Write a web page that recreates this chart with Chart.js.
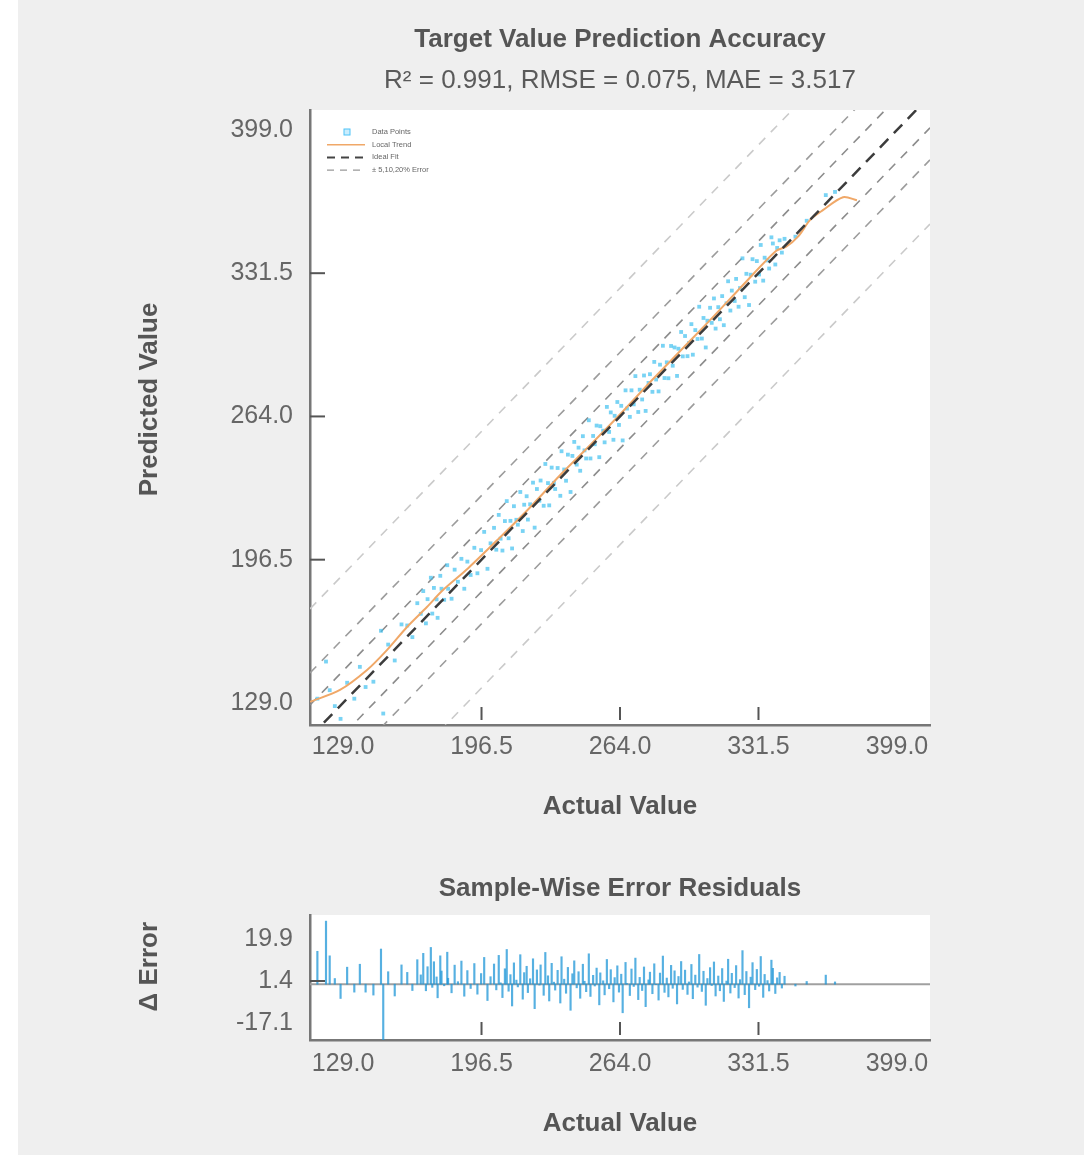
<!DOCTYPE html>
<html>
<head>
<meta charset="utf-8">
<script src="https://cdn.jsdelivr.net/npm/chart.js@4.4.1/dist/chart.umd.min.js"></script>
<style>
  body { margin: 0; background: #fff; }
  #panel { position: absolute; left: 18px; top: 0; width: 1066px; height: 1155px; background: #efefef; }
  canvas { position: absolute; left: 0; }
  #mainChart { top: 0; }
  #residChart { top: 840px; }
</style>
</head>
<body>
<div id="panel"></div>
<canvas id="mainChart" width="1089" height="840"></canvas>
<canvas id="residChart" width="1089" height="318"></canvas>
<script>
// tick labels
var xTicks = [129.0, 196.5, 264.0, 331.5, 399.0];
var yTicks = [129.0, 196.5, 264.0, 331.5, 399.0];
var residTicks = [-17.1, 1.4, 19.9];

// samples: actual vs predicted
var actualValues = [
  116.5, 120.7, 122.5, 125.0, 127.8, 131.0, 134.5, 137.2, 140.0, 143.8,
  147.5, 148.6, 151.0, 154.2, 157.5, 160.3, 162.8,
  165.2, 166.9, 168.1, 169.4, 170.2, 171.8, 172.5, 173.3, 174.6, 175.1,
  176.4, 177.0, 178.3, 179.8, 180.2, 181.9, 183.4, 185.0, 186.7, 188.1,
  189.6, 191.2, 193.0, 194.5, 196.3, 197.8, 199.4, 200.9, 202.6, 203.7,
  204.9, 205.8, 206.7, 207.9, 208.8, 209.7, 210.6, 211.4, 212.3, 213.5,
  214.2, 215.4, 216.6, 217.3, 218.5, 219.1, 220.2, 221.6, 222.4, 223.5,
  224.7, 225.3, 226.8, 227.6, 228.9, 229.5, 230.7, 231.8, 232.4, 233.6,
  234.9, 235.5, 236.8, 237.7, 238.6, 239.9, 240.8, 241.7, 242.9, 243.8,
  244.6, 245.9, 246.7, 247.5, 248.8, 249.6, 250.9, 251.7, 252.6, 253.9,
  254.4, 255.8, 256.5, 257.6, 258.7, 259.5, 260.8, 261.4, 262.7, 263.5,
  264.6, 265.3, 266.7, 267.4, 268.8, 269.6, 270.7, 271.5, 272.9, 273.6,
  274.8, 275.7, 276.5, 277.9, 278.6, 279.8, 280.7, 281.6, 282.8, 283.5,
  284.9, 285.7, 286.8, 287.6, 288.9, 289.7, 290.6, 291.8, 292.5, 293.8,
  294.6, 295.7, 296.9, 297.6, 298.8, 299.5, 300.7, 301.8, 302.6, 303.9,
  304.7, 305.8, 306.6, 307.9, 308.7, 309.8, 310.6, 311.9, 312.7, 313.8,
  314.6, 315.9, 316.7, 317.8, 318.5, 319.9, 320.6, 321.8, 322.5, 323.7,
  324.8, 325.6, 326.9, 327.7, 328.6, 329.9, 330.7, 331.8, 332.6, 333.8,
  334.5, 335.9, 336.7, 337.8, 338.5, 339.7, 340.6, 341.8, 342.9, 344.2,
  349.5, 355.0, 364.3, 368.8
];
var predictedValues = [
  131.0, 148.5, 135.0, 127.5, 121.5, 138.5, 131.0, 146.0, 136.5, 139.0,
  163.0, 124.0, 156.5, 149.0, 166.0, 165.5, 160.0,
  176.0, 171.0, 181.7, 166.5, 177.9, 188.0, 171.1, 183.2, 177.8, 169.1,
  188.9, 182.8, 177.6, 193.9, 182.8, 178.1, 191.8, 186.1, 196.9, 182.8,
  195.6, 189.3, 202.1, 190.1, 201.0, 209.6, 192.2, 204.2, 211.5, 201.2,
  217.6, 206.4, 200.8, 214.7, 224.1, 206.6, 214.8, 201.8, 221.7, 215.3,
  213.0, 228.4, 210.0, 222.4, 226.4, 215.4, 222.6, 232.8, 211.6, 229.8,
  224.3, 233.8, 221.9, 241.6, 232.6, 222.1, 239.9, 232.7, 229.8, 239.7,
  226.6, 247.6, 239.0, 233.7, 246.0, 228.4, 245.4, 252.0, 241.3, 249.3,
  238.4, 254.7, 248.0, 244.2, 262.2, 244.2, 254.8, 250.9, 259.7, 244.8,
  259.4, 257.3, 251.8, 268.5, 256.7, 265.9, 253.0, 264.3, 270.8, 260.0,
  269.0, 252.7, 276.3, 267.7, 263.8, 276.3, 269.7, 283.0, 266.1, 276.6,
  272.0, 283.3, 266.6, 279.8, 283.9, 275.6, 289.7, 281.4, 275.8, 288.4,
  297.3, 282.1, 289.5, 282.0, 297.2, 287.9, 296.5, 283.1, 295.9, 303.8,
  292.3, 301.9, 292.4, 298.6, 307.5, 293.1, 304.7, 300.5, 315.7, 300.7,
  310.4, 296.5, 309.1, 315.2, 308.1, 319.6, 305.4, 315.5, 309.8, 320.7,
  307.0, 317.3, 327.7, 313.9, 323.3, 318.4, 328.8, 315.7, 324.5, 338.5,
  320.2, 331.2, 316.5, 330.8, 338.1, 327.5, 337.2, 330.9, 344.8, 328.0,
  338.8, 337.5, 333.7, 348.4, 345.5, 335.6, 343.4, 347.0, 341.2, 347.7,
  348.7, 356.2, 368.3, 369.8
];

// local trend curve
var localFitX = [112.9, 127.5, 140.7, 150.5, 160.2, 169.9, 177.7, 190.0, 205.0, 220.0, 235.0, 250.0, 265.0, 280.0, 295.0, 310.0, 325.0, 340.0, 345.0, 351.0, 356.6, 362.9, 372.7, 379.5];
var localFitY = [129.5, 135.1, 144.5, 154.0, 164.8, 174.2, 182.2, 192.5, 206.5, 221.0, 236.5, 251.0, 266.0, 281.5, 296.5, 311.5, 327.0, 342.0, 344.0, 349.0, 356.5, 361.2, 367.3, 365.9];

var errorPercents = [5, 10, 20];
var errorColors = ['#8c8c8c', '#9c9c9c', '#cacaca'];

var FONT = "'Liberation Sans', Arial, sans-serif";
var xMin = 112.9, xMax = 415.1;

var plotBg = {
  id: 'plotBg',
  beforeDraw: function(chart) {
    var a = chart.chartArea, ctx = chart.ctx;
    ctx.save();
    ctx.fillStyle = '#ffffff';
    ctx.fillRect(a.left, a.top, a.right - a.left, a.bottom - a.top);
    ctx.restore();
  }
};

// small inward tick marks on the inner ticks
var innerTicks = {
  id: 'innerTicks',
  afterDatasetsDraw: function(chart) {
    var a = chart.chartArea, ctx = chart.ctx, sx = chart.scales.x, sy = chart.scales.y;
    ctx.save();
    ctx.strokeStyle = '#555';
    ctx.lineWidth = 2;
    sx.ticks.slice(1, -1).forEach(function(t) {
      var p = sx.getPixelForValue(t.value);
      ctx.beginPath(); ctx.moveTo(p, a.bottom - 5); ctx.lineTo(p, a.bottom - 18); ctx.stroke();
    });
    sy.ticks.slice(1, -1).forEach(function(t) {
      var p = sy.getPixelForValue(t.value);
      ctx.beginPath(); ctx.moveTo(a.left, p); ctx.lineTo(a.left + 15, p); ctx.stroke();
    });
    ctx.restore();
  }
};

var insetLegend = {
  id: 'insetLegend',
  afterDatasetsDraw: function(chart) {
    var a = chart.chartArea, ctx = chart.ctx;
    var x0 = a.left + 17, x1 = a.left + 55, tx = a.left + 62, y = a.top + 22, step = 12.7;
    ctx.save();
    ctx.font = '7.5px ' + FONT;
    ctx.textBaseline = 'middle';
    // data points
    ctx.strokeStyle = '#4fc3f7'; ctx.fillStyle = 'rgba(79,195,247,0.3)'; ctx.lineWidth = 1;
    ctx.fillRect(a.left + 34, y - 3, 6, 6); ctx.strokeRect(a.left + 34, y - 3, 6, 6);
    ctx.fillStyle = '#666'; ctx.fillText('Data Points', tx, y);
    // local trend
    y += step;
    ctx.strokeStyle = '#f0a868'; ctx.lineWidth = 1.5;
    ctx.beginPath(); ctx.moveTo(x0, y); ctx.lineTo(x1, y); ctx.stroke();
    ctx.fillText('Local Trend', tx, y);
    // ideal
    y += step;
    ctx.strokeStyle = '#444'; ctx.lineWidth = 2; ctx.setLineDash([8, 6]);
    ctx.beginPath(); ctx.moveTo(x0, y); ctx.lineTo(x1, y); ctx.stroke();
    ctx.fillText('Ideal Fit', tx, y);
    // error bands
    y += step;
    ctx.strokeStyle = '#999'; ctx.lineWidth = 1.2; ctx.setLineDash([7, 6]);
    ctx.beginPath(); ctx.moveTo(x0, y); ctx.lineTo(x1, y); ctx.stroke();
    ctx.fillText('\u00b1 5,10,20% Error', tx, y);
    ctx.restore();
  }
};

function fixedTicks(list) {
  return function(s) { s.ticks = list.map(function(v) { return { value: v }; }); };
}

var points = actualValues.map(function(a, i) { return { x: a, y: predictedValues[i] }; });
var localFit = localFitX.map(function(x, i) { return { x: x, y: localFitY[i] }; });
var residuals = actualValues.map(function(a, i) { return { x: a, y: +(predictedValues[i] - a).toFixed(1) }; });

var datasets = [
  { label: 'Ideal Fit', type: 'line', data: [{ x: xMin, y: xMin }, { x: xMax, y: xMax }],
    borderColor: '#3c3c3c', borderWidth: 2.5, borderDash: [12, 8], pointRadius: 0, showLine: true, order: 0 },
  { label: 'Local Trend', type: 'line', data: localFit, borderColor: '#f0a868', borderWidth: 2,
    pointRadius: 0, showLine: true, tension: 0.3, order: 1 },
  { label: 'Data Points', type: 'scatter', data: points, pointStyle: 'rect', pointRadius: 2.7,
    backgroundColor: 'rgba(64,192,240,0.7)', borderColor: 'rgba(64,192,240,0.7)', borderWidth: 0, order: 2 }
];
var span = xMax - xMin;
errorPercents.forEach(function(p, k) {
  [1, -1].forEach(function(sign) {
    var off = sign * p / 100 * span;
    datasets.push({ label: p + '%', type: 'line', data: [{ x: xMin, y: xMin + off }, { x: xMax, y: xMax + off }],
      borderColor: errorColors[k], borderWidth: 1.6, borderDash: [9, 8], pointRadius: 0, showLine: true, order: 4 });
  });
});

function axisTitle(text, pad) {
  return { display: true, text: text, color: '#555', font: { family: FONT, size: 26, weight: 'bold' }, padding: pad };
}
function tickFont(pad) {
  return { padding: pad, color: '#666', font: { family: FONT, size: 25 }, maxRotation: 0, autoSkip: false,
    callback: function(v) { return Number(v).toFixed(1); } };
}

new Chart(document.getElementById('mainChart'), {
  type: 'scatter',
  data: { datasets: datasets },
  plugins: [plotBg, innerTicks, insetLegend],
  options: {
    responsive: false, animation: false, devicePixelRatio: 1,
    layout: { padding: { left: 0, right: 159, top: 0, bottom: 0 } },
    plugins: {
      legend: { display: false }, tooltip: { enabled: false },
      title: { display: true, fullSize: false, text: 'Target Value Prediction Accuracy', color: '#555',
        font: { family: FONT, size: 26, weight: 'bold' }, padding: { top: 24.4, bottom: 9.8 } },
      subtitle: { display: true, fullSize: false, text: 'R\u00b2 = 0.991, RMSE = 0.075, MAE = 3.517', color: '#5a5a5a',
        font: { family: FONT, size: 26 }, padding: { top: 0, bottom: 13.4 } }
    },
    scales: {
      x: { type: 'linear', min: xMin, max: xMax, afterBuildTicks: fixedTicks(xTicks),
        afterFit: function(s) { s.height = 115; },
        grid: { display: false, drawTicks: false }, border: { display: true, color: '#777', width: 2.5 },
        ticks: tickFont(7), title: axisTitle('Actual Value', { top: 0, bottom: 17.4 }) },
      y: { type: 'linear', min: 118.6, max: 408.4, afterBuildTicks: fixedTicks(yTicks),
        afterFit: function(s) { s.width = 310; },
        grid: { display: false, drawTicks: false }, border: { display: true, color: '#777', width: 2.5 },
        ticks: tickFont(17), title: axisTitle('     Predicted Value', { top: 134, bottom: 0 }) }
    }
  }
});

new Chart(document.getElementById('residChart'), {
  type: 'bar',
  data: { datasets: [
    { label: 'Residual', data: residuals, backgroundColor: 'rgba(30,150,215,0.75)', barThickness: 1.5, order: 1 },
    { label: 'Zero', type: 'line', data: [{ x: xMin, y: 0 }, { x: xMax, y: 0 }], borderColor: '#a0a0a0',
      borderWidth: 2, pointRadius: 0, order: 2 }
  ] },
  plugins: [plotBg, innerTicks],
  options: {
    responsive: false, animation: false, devicePixelRatio: 1,
    layout: { padding: { left: 0, right: 159, top: 0, bottom: 0 } },
    plugins: {
      legend: { display: false }, tooltip: { enabled: false },
      title: { display: true, fullSize: false, text: 'Sample-Wise Error Residuals', color: '#555',
        font: { family: FONT, size: 26, weight: 'bold' }, padding: { top: 33.4, bottom: 10.4 } }
    },
    scales: {
      x: { type: 'linear', offset: false, min: xMin, max: xMax, afterBuildTicks: fixedTicks(xTicks),
        afterFit: function(s) { s.height = 118; },
        grid: { display: false, drawTicks: false, offset: false }, border: { display: true, color: '#777', width: 2.5 },
        ticks: tickFont(9), title: axisTitle('Actual Value', { top: 0, bottom: 18.4 }) },
      y: { type: 'linear', min: -24.6, max: 30.5, afterBuildTicks: fixedTicks(residTicks),
        afterFit: function(s) { s.width = 310; },
        grid: { display: false, drawTicks: false }, border: { display: true, color: '#777', width: 2.5 },
        ticks: tickFont(17), title: axisTitle('   \u0394 Error', { top: 134, bottom: 0 }) }
    }
  }
});
</script>
</body>
</html>
